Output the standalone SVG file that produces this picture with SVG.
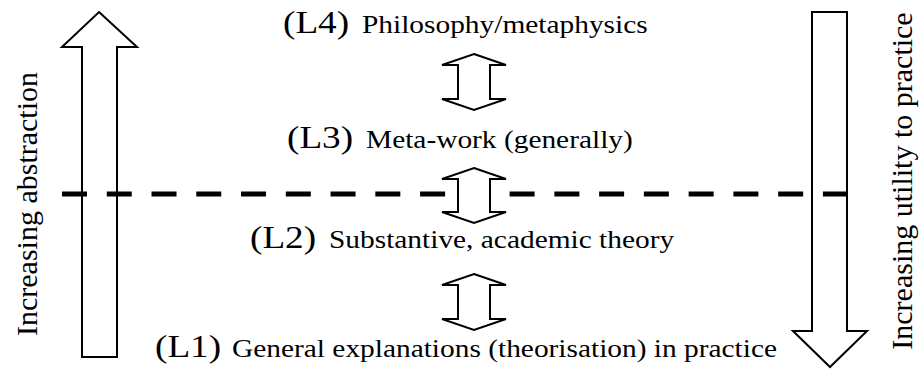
<svg xmlns="http://www.w3.org/2000/svg" width="920" height="376" viewBox="0 0 920 376">
<style>
.shape{fill:#fff;stroke:#000;stroke-width:2;stroke-linejoin:miter}
.big{font-family:"Liberation Serif","Times New Roman",serif;font-size:31px;fill:#000}
.small{font-family:"Liberation Serif","Times New Roman",serif;font-size:24.5px;fill:#000}
.side{font-family:"Liberation Serif","Times New Roman",serif;font-size:30px;fill:#000}
.dash{stroke:#000;stroke-width:5;stroke-dasharray:25 19.76;fill:none}
</style>
<rect width="920" height="376" fill="#fff"/>
<g id="abstraction-arrow">
<polygon class="shape" points="99,12 137,47 117,47 117,357 82,357 82,47 62,47"/>
<text class="side" transform="translate(37,204) rotate(-90)" text-anchor="middle">Increasing abstraction</text>
</g>
<g id="utility-arrow">
<polygon class="shape" points="812,12 847,12 847,331 867,331 830,367 793,331 812,331"/>
<text class="side" transform="translate(912,181) rotate(-90)" text-anchor="middle">Increasing utility to practice</text>
</g>
<g id="connectors">
<line class="dash" x1="62" y1="194" x2="848" y2="194"/>
<polygon class="shape" points="474,54 506,65 490,65 490,99 506,99 474,110 442,99 458,99 458,65 442,65"/>
<polygon class="shape" points="474,168 506,179 490,179 490,212 506,212 474,223 442,212 458,212 458,179 442,179"/>
<polygon class="shape" points="474,274 506,285 490,285 490,319 506,319 474,330 442,319 458,319 458,285 442,285"/>
</g>
<g id="L4">
<text class="big" transform="translate(283,33) scale(1.2,1)">(L4)</text>
<text class="small" transform="translate(362,33) scale(1.2,1)">Philosophy/metaphysics</text>
</g>
<g id="L3">
<text class="big" transform="translate(287,148) scale(1.2,1)">(L3)</text>
<text class="small" transform="translate(366,148) scale(1.2,1)">Meta-work (generally)</text>
</g>
<g id="L2">
<text class="big" transform="translate(250,248) scale(1.2,1)">(L2)</text>
<text class="small" transform="translate(329,248) scale(1.2,1)">Substantive, academic theory</text>
</g>
<g id="L1">
<text class="big" transform="translate(155,357) scale(1.2,1)">(L1)</text>
<text class="small" transform="translate(232,357) scale(1.2,1)">General explanations (theorisation) in practice</text>
</g>
</svg>
